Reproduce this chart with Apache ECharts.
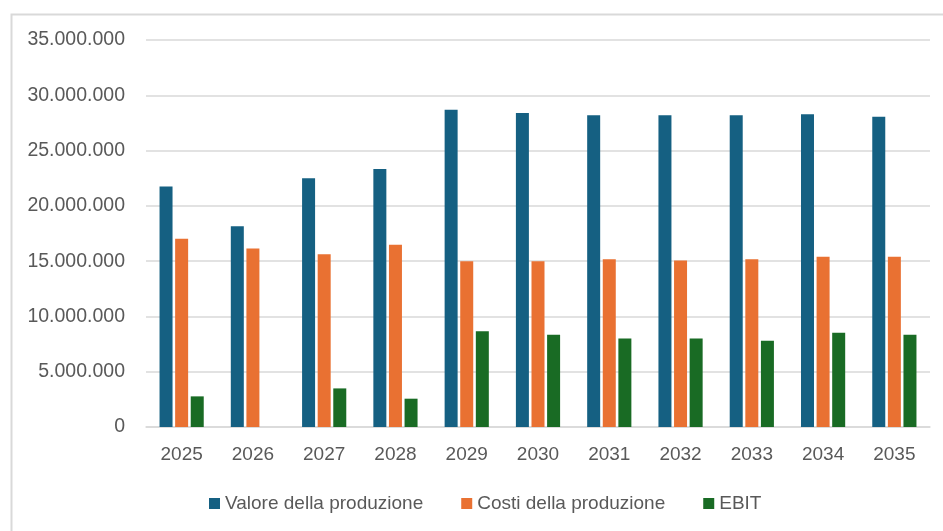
<!DOCTYPE html>
<html>
<head>
<meta charset="utf-8">
<script src="https://cdn.jsdelivr.net/npm/echarts@6/dist/echarts.min.js"></script>
<style>
html,body{margin:0;padding:0;background:#fff;}
#c{width:943px;height:531px;}
</style>
</head>
<body>
<div id="c"></div>
<script>
const categories = ['2025','2026','2027','2028','2029','2030','2031','2032','2033','2034','2035'];
const valoreProduzione = [21750000, 18160000, 22500000, 23340000, 28700000, 28400000, 28190000, 28190000, 28190000, 28280000, 28070000];
const costiProduzione = [17020000, 16140000, 15630000, 16480000, 15000000, 15000000, 15180000, 15060000, 15180000, 15390000, 15390000];
const ebit = [2770000, 0, 3490000, 2560000, 8670000, 8340000, 8010000, 8010000, 7800000, 8520000, 8340000];
const seriesNames = ['Valore della produzione', 'Costi della produzione', 'EBIT'];

const fmt = v => String(v).replace(/\B(?=(\d{3})+(?!\d))/g, '.');
const FONT = '"Liberation Sans", Arial, sans-serif';
const chart = echarts.init(document.getElementById('c'), null, {renderer: 'canvas'});
chart.setOption({
  animation: false,
  backgroundColor: '#ffffff',
  graphic: [{
    type: 'rect', left: 9, top: 12, silent: true,
    shape: {x: 0, y: 0, width: 1000, height: 600},
    style: {fill: 'none', stroke: '#d9d9d9', lineWidth: 2}
  }],
  grid: {left: 146, right: 13, top: 40, bottom: 104},
  legend: {
    left: 204, top: 489,
    itemWidth: 11, itemHeight: 11, itemGap: 38,
    icon: 'rect',
    textStyle: {color: '#595959', fontSize: 19, fontFamily: FONT},
    data: seriesNames
  },
  xAxis: {
    type: 'category', data: categories,
    axisLine: {lineStyle: {color: '#d9d9d9', width: 1.5}},
    axisTick: {show: false},
    axisLabel: {color: '#595959', fontSize: 19, fontFamily: FONT, margin: 18}
  },
  yAxis: {
    type: 'value', min: 0, max: 35000000, interval: 5000000,
    axisLine: {show: false}, axisTick: {show: false},
    splitLine: {lineStyle: {color: '#d9d9d9', width: 1.5}},
    axisLabel: {color: '#595959', fontSize: 19.5, fontFamily: FONT, margin: 21, formatter: fmt}
  },
  series: [
    {name: seriesNames[0], type: 'bar', data: valoreProduzione, barWidth: 13, barGap: '20%', itemStyle: {color: '#156082'}},
    {name: seriesNames[1], type: 'bar', data: costiProduzione, barWidth: 13, barGap: '20%', itemStyle: {color: '#E97132'}},
    {name: seriesNames[2], type: 'bar', data: ebit, barWidth: 13, barGap: '20%', itemStyle: {color: '#196B24'}}
  ]
});
</script>
</body>
</html>
